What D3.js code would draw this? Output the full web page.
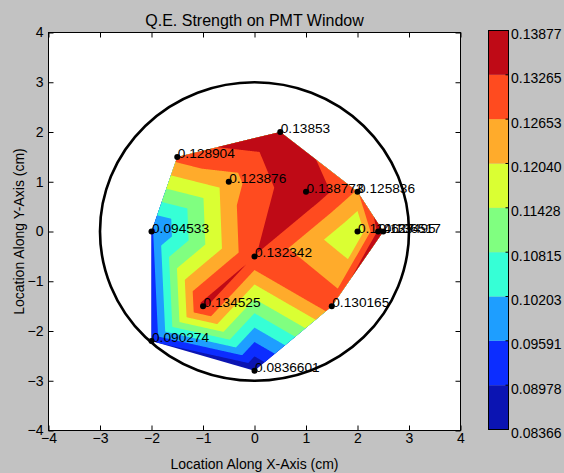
<!DOCTYPE html>
<html><head><meta charset="utf-8">
<script src="https://cdn.jsdelivr.net/npm/d3@7"></script>
<style>
html,body{margin:0;padding:0;background:#c2c2c2;}
svg{display:block;font-family:"Liberation Sans",Arial,Helvetica,sans-serif;}
</style></head><body>
<svg id="chart" width="564" height="473"></svg>
<script>
// ---- data ----
const pointX = [0.5, -1.5, -0.5, 1.0, 2.0, -2.0, 2.0, 2.4, 2.5, 0.0, -1.0, 1.5, -2.0, 0.0];
const pointY = [2.0, 1.5, 1.0, 0.8, 0.8, 0.0, 0.0, 0.0, 0.0, -0.5, -1.5, -1.5, -2.2, -2.8];
const qeValues = [0.13853, 0.128904, 0.123876, 0.138773, 0.125836, 0.094533, 0.114627, 0.133495, 0.136517, 0.132342, 0.134525, 0.130165, 0.090274, 0.0836601];
const levelLabels = ["0.08366","0.08978","0.09591","0.10203","0.10815","0.11428","0.12040","0.12653","0.13265","0.13877"];
const bandColors = ["#0b14b2","#0c2dff","#1e9eff","#36ffd6","#80ff80","#daff33","#ffab2b","#ff4b1f","#bf0a16"];
const axisTicks = [-4,-3,-2,-1,0,1,2,3,4];
const circleRadius = 3;
const titleText = "Q.E. Strength on PMT Window";
const xLabelText = "Location Along X-Axis (cm)";
const yLabelText = "Location Along Y-Axis (cm)";

// ---- layout ----
const W = 564, H = 473;
const PL = 48.5, PR = 460.5, PT = 32.5, PB = 430.5;
const CBL = 488.5, CBR = 508.5, CBT = 30.5, CBB = 429.5;
const levels = levelLabels.map(Number);

const svg = d3.select("#chart");
svg.append("rect").attr("width", W).attr("height", H).attr("fill", "#c2c2c2");
svg.append("rect").attr("x", PL).attr("y", PT).attr("width", PR - PL).attr("height", PB - PT).attr("fill", "#fff");

const xScale = d3.scaleLinear().domain([-4, 4]).range([PL, PR]);
const yScale = d3.scaleLinear().domain([-4, 4]).range([PB, PT]);

// ---- interpolation (linear on Delaunay triangles) ----
const pts = pointX.map((x, i) => [x, pointY[i]]);
const delaunay = d3.Delaunay.from(pts);
const tris = [];
for (let t = 0; t < delaunay.triangles.length; t += 3)
  tris.push([delaunay.triangles[t], delaunay.triangles[t + 1], delaunay.triangles[t + 2]]);

function interp(x, y) {
  let best = -Infinity, bestVal = 0;
  for (const [a, b, c] of tris) {
    const x1 = pts[a][0], y1 = pts[a][1], x2 = pts[b][0], y2 = pts[b][1], x3 = pts[c][0], y3 = pts[c][1];
    const det = (y2 - y3) * (x1 - x3) + (x3 - x2) * (y1 - y3);
    let l1 = ((y2 - y3) * (x - x3) + (x3 - x2) * (y - y3)) / det;
    let l2 = ((y3 - y1) * (x - x3) + (x1 - x3) * (y - y3)) / det;
    let l3 = 1 - l1 - l2;
    const m = Math.min(l1, l2, l3);
    if (m > best) {
      best = m;
      if (m < 0) {
        l1 = Math.max(l1, 0); l2 = Math.max(l2, 0); l3 = Math.max(l3, 0);
        const s = l1 + l2 + l3; l1 /= s; l2 /= s; l3 /= s;
      }
      bestVal = l1 * qeValues[a] + l2 * qeValues[b] + l3 * qeValues[c];
      if (m >= 0) break;
    }
  }
  return bestVal;
}

const step = 0.01;
const gx0 = -2.1, gx1 = 2.6, gy0 = -2.9, gy1 = 2.1;
const nx = Math.round((gx1 - gx0) / step) + 1;
const ny = Math.round((gy1 - gy0) / step) + 1;
const grid = new Float64Array(nx * ny);
for (let j = 0; j < ny; j++)
  for (let i = 0; i < nx; i++)
    grid[j * nx + i] = interp(gx0 + i * step, gy0 + j * step);

const contours = d3.contours().size([nx, ny]).thresholds(levels.slice(0, 9))(grid);
const proj = d3.geoTransform({
  point: function (x, y) {
    this.stream.point(xScale(gx0 + (x - 0.5) * step), yScale(gy0 + (y - 0.5) * step));
  }
});
const path = d3.geoPath(proj);

const hull = delaunay.hullPolygon().map(p => [xScale(p[0]), yScale(p[1])]);
svg.append("clipPath").attr("id", "hullClip")
  .append("path").attr("d", "M" + hull.map(p => p.join(",")).join("L") + "Z");

svg.append("g").attr("clip-path", "url(#hullClip)")
  .selectAll("path").data(contours).join("path")
  .attr("d", path)
  .attr("fill", (d, i) => bandColors[i]);

// ---- circle ----
svg.append("ellipse")
  .attr("cx", xScale(0)).attr("cy", yScale(0))
  .attr("rx", xScale(circleRadius) - xScale(0))
  .attr("ry", yScale(0) - yScale(circleRadius))
  .attr("fill", "none").attr("stroke", "#000").attr("stroke-width", 2.6);

// ---- points and labels ----
const fmt = d3.format(".6~g");
svg.append("g").selectAll("circle").data(pts).join("circle")
  .attr("cx", d => xScale(d[0])).attr("cy", d => yScale(d[1])).attr("r", 3).attr("fill", "#000");
svg.append("g").selectAll("text").data(pts).join("text")
  .attr("x", d => xScale(d[0]) + 0.5).attr("y", d => yScale(d[1]) + 1)
  .attr("font-size", "13.7px").attr("fill", "#000")
  .text((d, i) => fmt(qeValues[i]));

// ---- axes ----
function styleAxis(g) {
  g.select(".domain").remove();
  g.selectAll("line").attr("stroke", "#000");
  g.selectAll("text").attr("font-size", "14px").attr("fill", "#000").attr("font-family", '"Liberation Sans",Arial,sans-serif');
}
svg.append("g").attr("transform", `translate(0,${PB})`)
  .call(d3.axisBottom(xScale).tickValues(axisTicks).tickSizeInner(-5).tickSizeOuter(0).tickPadding(3))
  .call(styleAxis);
svg.append("g").attr("transform", `translate(0,${PT})`)
  .call(d3.axisTop(xScale).tickValues(axisTicks).tickSizeInner(-5).tickSizeOuter(0).tickFormat(() => ""))
  .call(styleAxis);
svg.append("g").attr("transform", `translate(${PL},0)`)
  .call(d3.axisLeft(yScale).tickValues(axisTicks).tickSizeInner(-5).tickSizeOuter(0).tickPadding(5))
  .call(styleAxis);
svg.append("g").attr("transform", `translate(${PR},0)`)
  .call(d3.axisRight(yScale).tickValues(axisTicks).tickSizeInner(-5).tickSizeOuter(0).tickFormat(() => ""))
  .call(styleAxis);
svg.append("rect").attr("x", PL).attr("y", PT).attr("width", PR - PL).attr("height", PB - PT)
  .attr("fill", "none").attr("stroke", "#000").attr("stroke-width", 1);

// ---- titles ----
svg.append("text").attr("x", (PL + PR) / 2).attr("y", 26).attr("text-anchor", "middle")
  .attr("font-size", "16px").text(titleText);
svg.append("text").attr("x", (PL + PR) / 2).attr("y", 469).attr("text-anchor", "middle")
  .attr("font-size", "14px").text(xLabelText);
svg.append("text").attr("transform", `translate(24,${(PT + PB) / 2}) rotate(-90)`).attr("text-anchor", "middle")
  .attr("font-size", "14px").text(yLabelText);

// ---- colorbar ----
const cbScale = d3.scaleLinear().domain([levels[0], levels[levels.length - 1]]).range([CBB, CBT]);
const cb = svg.append("g");
cb.selectAll("rect").data(bandColors).join("rect")
  .attr("x", CBL).attr("width", CBR - CBL)
  .attr("y", (c, i) => cbScale(levels[i + 1]))
  .attr("height", (c, i) => cbScale(levels[i]) - cbScale(levels[i + 1]))
  .attr("fill", c => c);
cb.append("rect").attr("x", CBL).attr("y", CBT).attr("width", CBR - CBL).attr("height", CBB - CBT)
  .attr("fill", "none").attr("stroke", "#000");
cb.selectAll("line").data(levels).join("line")
  .attr("x1", CBR - 3).attr("x2", CBR).attr("y1", d => cbScale(d)).attr("y2", d => cbScale(d))
  .attr("stroke", "#000");
cb.selectAll("text").data(levelLabels).join("text")
  .attr("x", CBR + 2.5).attr("y", (d, i) => cbScale(levels[i]) + 3.5).attr("dy", "0.35em")
  .attr("font-size", "14px").text(d => d);
</script>
</body></html>
